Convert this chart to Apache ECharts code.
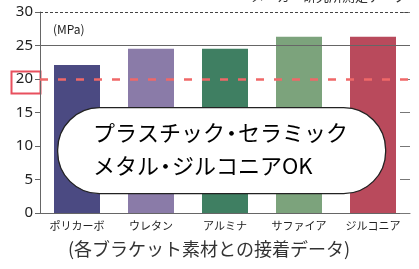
<!DOCTYPE html>
<html><head><meta charset="utf-8">
<script src="https://cdn.jsdelivr.net/npm/echarts@6/dist/echarts.min.js"></script>
<style>html,body{margin:0;padding:0;background:#fff}#c{width:419px;height:269px}</style>
</head><body><div id="c"></div>
<script>
const categories = ['ポリカーボ', 'ウレタン', 'アルミナ', 'サファイア', 'ジルコニア'];
const values = [22.1, 24.5, 24.5, 26.3, 26.3];
const barColors = ['#4b4a82', '#8a7ba8', '#3f7f62', '#7ca37c', '#b94a5c'];
const yTicks = [0, 5, 10, 15, 20, 25, 30];
const refValue = 20;
const F = '"Noto Sans CJK JP", "Noto Sans", sans-serif';

const chart = echarts.init(document.getElementById('c'));
const rich = {
  a: { font: '22px ' + F, color: '#333' },
  d: { font: '22px ' + F, color: '#333', width: 13, align: 'center' }
};
chart.setOption({
  animation: false,
  grid: { left: 40, right: 9, top: 12, bottom: 56 },
  xAxis: {
    type: 'category', data: categories,
    axisLine: { lineStyle: { color: '#666', width: 1 } },
    axisTick: { show: false },
    axisLabel: { color: '#222', fontSize: 11, fontFamily: F, margin: 7, interval: 0 }
  },
  yAxis: [{
    type: 'value', min: 0, max: 30, interval: 5,
    axisLine: { show: true, lineStyle: { color: '#666' } },
    axisTick: { show: true, length: 5, lineStyle: { color: '#666' } },
    splitLine: { show: false },
    axisLabel: { color: '#222', fontSize: 15, fontFamily: '"Noto Sans", sans-serif', margin: 7,
      formatter: v => yTicks.includes(v) ? String(v) : '' }
  }, {
    type: 'value', min: 0, max: 30, interval: 5, position: 'right',
    axisLine: { show: false },
    axisTick: { show: true, inside: true, length: 10, lineStyle: { color: '#777' } },
    axisLabel: { show: false }, splitLine: { show: false }
  }],
  series: [{
    type: 'bar', barWidth: 46,
    data: values.map((v, i) => ({ value: v, itemStyle: { color: barColors[i] } })),
    markLine: {
      silent: true, symbol: 'none', label: { show: false },
      data: [
        { yAxis: 30, lineStyle: { color: '#444', type: [3, 2], width: 1 } },
        { yAxis: 25, lineStyle: { color: '#666', type: 'solid', width: 1 } },
        { yAxis: refValue, lineStyle: { color: '#f06868', type: [8, 10], width: 2.5 } }
      ]
    },
    z: 2
  }],
  graphic: [
    { type: 'rect', left: 57, top: 107, z: 50,
      shape: { width: 328, height: 86, r: 42 },
      style: { fill: '#fff', stroke: '#222', lineWidth: 1.3 } },
    { type: 'text', left: 93, top: 122, z: 51,
      style: { text: '{a|プラスチック}{d|・}{a|セラミック}', rich: rich } },
    { type: 'text', left: 93, top: 155, z: 51,
      style: { text: '{a|メタル}{d|・}{a|ジルコニアOK}', rich: rich } },
    { type: 'text', left: 53, top: 23,
      style: { text: '(MPa)', fill: '#222', font: '12px ' + F } },
    { type: 'text', right: 12, top: -10,
      style: { text: 'メーカー研究所測定データ', fill: '#333', font: '13px ' + F } },
    { type: 'rect', left: 9, top: 69,
      shape: { width: 29, height: 22 },
      style: { fill: 'none', stroke: '#e8505e', lineWidth: 2 } },
    { type: 'text', left: 68, top: 240,
      style: { text: '(各ブラケット素材との接着データ)', fill: '#333', font: '18px ' + F } }
  ]
});
</script></body></html>
